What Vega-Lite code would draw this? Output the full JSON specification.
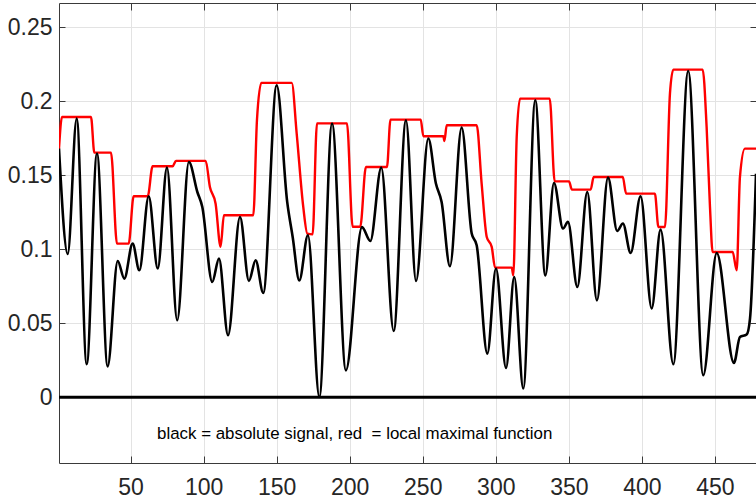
{
  "$schema": "https://vega.github.io/schema/vega-lite/v6.json",
  "width": 697,
  "height": 460,
  "autosize": {"type": "none"},
  "padding": {"left": 59, "top": 3, "right": 0, "bottom": 38},
  "background": "white",
  "config": {
    "view": {"stroke": null},
    "font": "Liberation Sans",
    "axis": {
      "labelFont": "Liberation Sans",
      "labelFontSize": 23,
      "labelColor": "#262626",
      "gridColor": "#e3e3e3",
      "gridWidth": 1,
      "domainColor": "#3a3a3a",
      "domainWidth": 1,
      "tickColor": "#3a3a3a",
      "tickWidth": 1,
      "title": null
    }
  },
  "datasets": {
    "signal": [
      {"x": 1, "y": 0.168},
      {"x": 6.95, "y": 0.0968},
      {"x": 13.1, "y": 0.1883},
      {"x": 19.96, "y": 0.0223},
      {"x": 27.0, "y": 0.1647},
      {"x": 34.3, "y": 0.0209},
      {"x": 41.2, "y": 0.0921},
      {"x": 45.7, "y": 0.0802},
      {"x": 51.4, "y": 0.1038},
      {"x": 56.0, "y": 0.0858},
      {"x": 62.4, "y": 0.1358},
      {"x": 68.6, "y": 0.087},
      {"x": 74.9, "y": 0.1552},
      {"x": 81.9, "y": 0.052},
      {"x": 89.9, "y": 0.159},
      {"x": 95.7, "y": 0.1387},
      {"x": 99.1, "y": 0.1286},
      {"x": 105.9, "y": 0.0779},
      {"x": 110.5, "y": 0.0937},
      {"x": 116.7, "y": 0.0419},
      {"x": 124.9, "y": 0.1218},
      {"x": 131.0, "y": 0.0786},
      {"x": 135.6, "y": 0.0926},
      {"x": 140.8, "y": 0.0705},
      {"x": 150.0, "y": 0.2108},
      {"x": 157.2, "y": 0.132},
      {"x": 161.0, "y": 0.108},
      {"x": 165.5, "y": 0.079},
      {"x": 171.4, "y": 0.1095},
      {"x": 179.2, "y": 0.0002},
      {"x": 187.9, "y": 0.185},
      {"x": 197.4, "y": 0.0182},
      {"x": 208.4, "y": 0.115},
      {"x": 214.1, "y": 0.1056},
      {"x": 221.6, "y": 0.1552},
      {"x": 230.1, "y": 0.0448},
      {"x": 238.5, "y": 0.1872},
      {"x": 245.4, "y": 0.0786},
      {"x": 253.8, "y": 0.1748},
      {"x": 259.0, "y": 0.1444},
      {"x": 262.9, "y": 0.132},
      {"x": 268.6, "y": 0.0885},
      {"x": 276.6, "y": 0.1822},
      {"x": 283.5, "y": 0.1106},
      {"x": 286.9, "y": 0.1027},
      {"x": 294.2, "y": 0.0295},
      {"x": 300.1, "y": 0.087},
      {"x": 307.0, "y": 0.0198},
      {"x": 312.6, "y": 0.0813},
      {"x": 318.8, "y": 0.0059},
      {"x": 327.0, "y": 0.2007},
      {"x": 333.9, "y": 0.0824},
      {"x": 339.8, "y": 0.1448},
      {"x": 346.0, "y": 0.114},
      {"x": 349.4, "y": 0.1185},
      {"x": 355.8, "y": 0.0745},
      {"x": 362.6, "y": 0.1387},
      {"x": 369.2, "y": 0.0655},
      {"x": 376.8, "y": 0.1484},
      {"x": 383.1, "y": 0.1124},
      {"x": 387.0, "y": 0.1174},
      {"x": 392.3, "y": 0.0975},
      {"x": 399.1, "y": 0.1358},
      {"x": 406.7, "y": 0.06},
      {"x": 412.8, "y": 0.1133},
      {"x": 421.5, "y": 0.0223},
      {"x": 431.7, "y": 0.2205},
      {"x": 442.0, "y": 0.0149},
      {"x": 451.2, "y": 0.0975},
      {"x": 463.0, "y": 0.0232},
      {"x": 467.1, "y": 0.0407},
      {"x": 471.7, "y": 0.0424},
      {"x": 474.0, "y": 0.0532},
      {"x": 478.1, "y": 0.151}
    ],
    "envelope": [
      {"x": 1, "y": 0.168},
      {"x": 3.05, "y": 0.1894},
      {"x": 22.9, "y": 0.1894},
      {"x": 25.2, "y": 0.1653},
      {"x": 36.6, "y": 0.1653},
      {"x": 40.7, "y": 0.1038},
      {"x": 48.7, "y": 0.1038},
      {"x": 52.1, "y": 0.1358},
      {"x": 61.7, "y": 0.1358},
      {"x": 65.1, "y": 0.1561},
      {"x": 78.8, "y": 0.1561},
      {"x": 81.1, "y": 0.1597},
      {"x": 101.4, "y": 0.1597},
      {"x": 104.3, "y": 0.1421},
      {"x": 108.2, "y": 0.1308},
      {"x": 111.6, "y": 0.1017},
      {"x": 113.9, "y": 0.123},
      {"x": 134.0, "y": 0.123},
      {"x": 136.5, "y": 0.1872},
      {"x": 139.5, "y": 0.2124},
      {"x": 160.3, "y": 0.2124},
      {"x": 163.7, "y": 0.1782},
      {"x": 168.2, "y": 0.1286},
      {"x": 171.0, "y": 0.1106},
      {"x": 174.6, "y": 0.1101},
      {"x": 177.6, "y": 0.1851},
      {"x": 198.1, "y": 0.1851},
      {"x": 202.0, "y": 0.1152},
      {"x": 207.2, "y": 0.1152},
      {"x": 211.1, "y": 0.1556},
      {"x": 225.5, "y": 0.1556},
      {"x": 227.9, "y": 0.1876},
      {"x": 248.6, "y": 0.1876},
      {"x": 250.4, "y": 0.1764},
      {"x": 264.1, "y": 0.1764},
      {"x": 264.8, "y": 0.1732},
      {"x": 266.4, "y": 0.1838},
      {"x": 286.9, "y": 0.1838},
      {"x": 290.3, "y": 0.1444},
      {"x": 293.8, "y": 0.1083},
      {"x": 297.2, "y": 0.1016},
      {"x": 299.5, "y": 0.0876},
      {"x": 310.9, "y": 0.0876},
      {"x": 312.0, "y": 0.0824},
      {"x": 314.3, "y": 0.1759},
      {"x": 316.6, "y": 0.2018},
      {"x": 336.9, "y": 0.2018},
      {"x": 340.3, "y": 0.1459},
      {"x": 350.1, "y": 0.1459},
      {"x": 352.1, "y": 0.1403},
      {"x": 364.9, "y": 0.1403},
      {"x": 367.0, "y": 0.1488},
      {"x": 386.9, "y": 0.1488},
      {"x": 389.2, "y": 0.1376},
      {"x": 408.9, "y": 0.1376},
      {"x": 411.3, "y": 0.1151},
      {"x": 415.8, "y": 0.1151},
      {"x": 419.2, "y": 0.2052},
      {"x": 421.5, "y": 0.2214},
      {"x": 441.6, "y": 0.2214},
      {"x": 444.3, "y": 0.1826},
      {"x": 446.6, "y": 0.1286},
      {"x": 448.4, "y": 0.0982},
      {"x": 462.1, "y": 0.0982},
      {"x": 464.9, "y": 0.0858},
      {"x": 467.1, "y": 0.1488},
      {"x": 470.5, "y": 0.168},
      {"x": 478.1, "y": 0.168}
    ],
    "note": [
      {"x": 68.1, "y": -0.0279, "label": "black = absolute signal, red \u00a0= local maximal function"}
    ],
    "zero": [
      {"y": 0}
    ]
  },
  "resolve": {"axis": {"x": "independent", "y": "independent"}},
  "layer": [
    {
      "data": {"name": "envelope"},
      "mark": {"type": "line", "color": "#ff0000", "strokeWidth": 2.4, "interpolate": "monotone", "clip": true},
      "encoding": {
        "x": {"field": "x", "type": "quantitative", "scale": {"domain": [1, 478.1], "nice": false, "zero": false},
          "axis": {"orient": "top", "labels": false, "grid": false, "ticks": true, "tickSize": -7, "values": [50, 100, 150, 200, 250, 300, 350, 400, 450], "domain": true}},
        "y": {"field": "y", "type": "quantitative", "scale": {"domain": [-0.0444, 0.2664], "nice": false, "zero": false},
          "axis": {"orient": "right", "labels": false, "grid": false, "ticks": true, "tickSize": -6, "values": [0, 0.05, 0.1, 0.15, 0.2, 0.25], "domain": false}}
      }
    },
    {
      "data": {"name": "signal"},
      "mark": {"type": "line", "color": "#000000", "strokeWidth": 2.6, "interpolate": "monotone", "clip": true},
      "encoding": {
        "x": {"field": "x", "type": "quantitative",
          "axis": {"orient": "bottom", "values": [50, 100, 150, 200, 250, 300, 350, 400, 450], "grid": true, "ticks": true, "tickSize": -7, "labelPadding": 20, "format": "d"}},
        "y": {"field": "y", "type": "quantitative",
          "axis": {"orient": "left", "values": [0, 0.05, 0.1, 0.15, 0.2, 0.25], "grid": true, "ticks": true, "tickSize": -6, "labelPadding": 13, "format": "~g"}}
      }
    },
    {
      "data": {"name": "zero"},
      "mark": {"type": "rule", "color": "#000000", "strokeWidth": 3},
      "encoding": {"y": {"field": "y", "type": "quantitative", "axis": null}}
    },
    {
      "data": {"name": "note"},
      "mark": {"type": "text", "align": "left", "baseline": "alphabetic", "font": "Liberation Sans", "fontSize": 16.9, "color": "#000000"},
      "encoding": {
        "x": {"field": "x", "type": "quantitative", "axis": null},
        "y": {"field": "y", "type": "quantitative", "axis": null},
        "text": {"field": "label"}
      }
    }
  ]
}
